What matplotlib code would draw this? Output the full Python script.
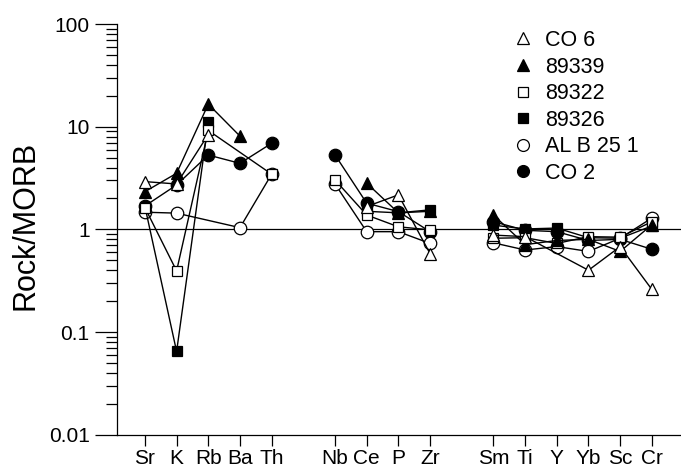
import numpy as np
import matplotlib
matplotlib.use("Agg")
import matplotlib.pyplot as plt
from matplotlib.lines import Line2D
from matplotlib.ticker import FixedLocator, FixedFormatter, LogLocator, NullFormatter

plt.rcParams['font.family'] = ['Liberation Sans', 'DejaVu Sans']

# element groups (gaps between groups on the x axis)
group1 = ["Sr", "K", "Rb", "Ba", "Th"]
group2 = ["Nb", "Ce", "P", "Zr"]
group3 = ["Sm", "Ti", "Y", "Yb", "Sc", "Cr"]

nan = np.nan
series_names = ["CO 6", "89339", "89322", "89326", "AL B 25 1", "CO 2"]

co6_g1 = [2.92, 2.77, 8.4, nan, nan]
co6_g2 = [nan, 1.67, 2.17, 0.58]
co6_g3 = [0.88, 0.85, nan, 0.40, 0.68, 0.26]

s89339_g1 = [2.33, 3.52, 16.6, 8.1, nan]
s89339_g2 = [nan, 2.82, 1.45, 1.50]
s89339_g3 = [1.38, 0.71, 0.78, 0.80, 0.61, 1.11]

s89322_g1 = [1.63, 0.394, 9.2, nan, 3.45]
s89322_g2 = [3.03, 1.38, 1.06, 0.99]
s89322_g3 = [0.82, 0.83, 0.73, 0.85, 0.84, 1.19]

s89326_g1 = [1.67, 0.0647, 11.0, nan, nan]
s89326_g2 = [nan, 1.50, 1.45, 1.55]
s89326_g3 = [1.10, 1.01, 1.03, 0.83, 0.82, 1.08]

alb_g1 = [1.47, 1.44, nan, 1.04, 3.45]
alb_g2 = [2.77, 0.95, 0.95, 0.73]
alb_g3 = [0.74, 0.63, 0.68, 0.61, 0.82, 1.29]

co2_g1 = [1.69, 2.71, 5.3, 4.4, 6.9]
co2_g2 = [5.31, 1.80, 1.49, 0.95]
co2_g3 = [1.19, 0.98, 0.95, 0.78, 0.80, 0.64]

series_values = [
    (co6_g1, co6_g2, co6_g3),
    (s89339_g1, s89339_g2, s89339_g3),
    (s89322_g1, s89322_g2, s89322_g3),
    (s89326_g1, s89326_g2, s89326_g3),
    (alb_g1, alb_g2, alb_g3),
    (co2_g1, co2_g2, co2_g3),
]

y_ticks = [0.01, 0.1, 1, 10, 100]
y_tick_labels = ["0.01", "0.1", "1", "10", "100"]

# styles
styles = [
    dict(marker='^', mfc='white', ms=8.8),
    dict(marker='^', mfc='black', ms=8.8),
    dict(marker='s', mfc='white', ms=7.8),
    dict(marker='s', mfc='black', ms=7.8),
    dict(marker='o', mfc='white', ms=9.0),
    dict(marker='o', mfc='black', ms=9.0),
]

fig = plt.figure(figsize=(6.81, 4.72), dpi=100)
ax = fig.add_axes([0.1714, 0.079, 0.8286, 0.870])

groups = [group1, group2, group3]
positions = []
labels = []
start = 0
for g in groups:
    pos = list(range(start, start + len(g)))
    positions.append(pos)
    labels.extend(g)
    start += len(g) + 1
all_pos = [p for pos in positions for p in pos]

n = len(series_names)
for i, (name, vals, st) in enumerate(zip(series_names, series_values, styles)):
    z = 10 + (n - i)
    for pos, gv in zip(positions, vals):
        x = np.array(pos, dtype=float)
        y = np.array(gv, dtype=float)
        m = ~np.isnan(y)
        ax.plot(x[m], y[m], color='black', lw=1.0, marker=st['marker'],
                mfc=st['mfc'], mec='black', mew=0.9, ms=st['ms'], zorder=z)

ax.axhline(1, color='black', lw=0.9, zorder=5)

ax.set_yscale('log')
ax.set_ylim(0.01, 100)
ax.set_xlim(-0.89, 16.92)

ax.yaxis.set_major_locator(FixedLocator(y_ticks))
ax.yaxis.set_major_formatter(FixedFormatter(y_tick_labels))
ax.yaxis.set_minor_locator(LogLocator(base=10, subs=np.arange(2, 10)))
ax.yaxis.set_minor_formatter(NullFormatter())

ax.xaxis.set_major_locator(FixedLocator(all_pos))
ax.xaxis.set_major_formatter(FixedFormatter(labels))
ax.xaxis.set_minor_locator(FixedLocator([]))

ax.tick_params(axis='y', which='major', length=15.6, width=0.9, pad=4, labelsize=15, direction='out')
ax.tick_params(axis='y', which='minor', length=8, width=0.9, direction='out')
ax.tick_params(axis='x', which='major', length=8, width=0.9, pad=2, labelsize=15, direction='out')

for s in ['top', 'right']:
    ax.spines[s].set_visible(False)
for s in ['left', 'bottom']:
    ax.spines[s].set_linewidth(0.9)

ax.set_ylabel('Rock/MORB', fontsize=22, va='center')
ax.yaxis.set_label_coords(-0.1625, 0.51)

handles = [Line2D([], [], linestyle='none', marker=st['marker'], mfc=st['mfc'],
                  mec='black', mew=0.9, ms=st['ms'] * 0.95) for st in styles]
leg = ax.legend(handles, series_names, loc='upper left',
                bbox_to_anchor=(512.6 / 681, 1 - 30 / 472), bbox_transform=fig.transFigure,
                frameon=False, fontsize=15.5, handlelength=1.0, handletextpad=0.5,
                borderpad=0, borderaxespad=0, labelspacing=0.26)

fig.savefig('out.png', dpi=100)
